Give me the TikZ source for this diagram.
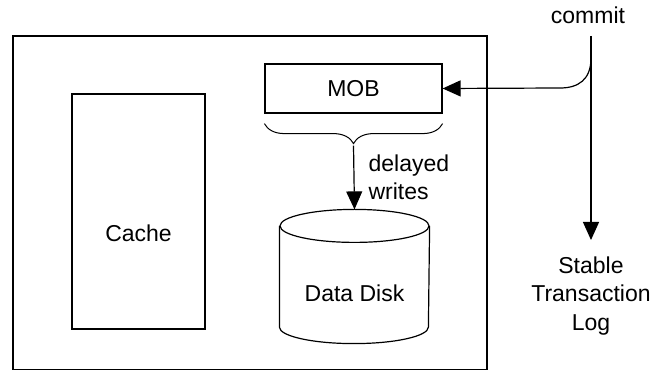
\documentclass[tikz,border=0pt]{standalone}
\usepackage{fontspec}
\setmainfont{Liberation Sans}
\usetikzlibrary{arrows.meta,positioning,decorations.pathreplacing}

\begin{document}
\begin{tikzpicture}[x=1pt,y=-1pt,line width=1.2pt,
        font=\fontsize{23}{28.5}\selectfont,
        box/.style={draw,rectangle,inner sep=0pt},
        disk/.style={rectangle,inner sep=0pt,minimum width=149pt,minimum height=133pt},
        >={Triangle[length=18pt,width=16pt]}]
    \useasboundingbox (0,0) rectangle (654,371);
    \draw (13,36) rectangle (487,369.5);
    \node[box,minimum width=133pt,minimum height=235pt] (cache) at (138.5,211.5) {};
    \node (cachelbl) at ([yshift=-22pt]cache.center) {Cache};
    \node[box,minimum width=177pt,minimum height=49pt] (mob) at (353.5,88.5) {MOB};
    % the data disk, drawn as a cylinder
    \node[disk] (disk) at (354.5,276.5) {};
    \draw ([yshift=-16.5pt]disk.north) ellipse [x radius=74.5,y radius=16.5];
    \draw ([yshift=-16.5pt]disk.north west) -- ([yshift=16.5pt]disk.south west)
        arc [start angle=180,end angle=0,x radius=74.5,y radius=16.5]
        -- ([yshift=-16.5pt]disk.north east);
    \node (disklbl) at ([yshift=-17pt]disk.center) {Data Disk};
    \draw[line width=1pt,decorate,decoration={brace,mirror,amplitude=20pt}]
        ([yshift=-10pt]mob.south west) -- ([yshift=-10pt]mob.south east);
    \coordinate (tip) at ([yshift=-32pt]mob.south);
    \draw[->] (tip) -- (disk.north)
        node[midway,right=14pt,align=left,inner sep=0pt] (dw) {delayed\\writes};
    % commit goes to the log and to the MOB
    \node (commit) at (588,15) {commit};
    \coordinate (ctop) at (591,36);
    \node[align=center,anchor=north,inner sep=0pt] (log) at (591,256) {Stable\\Transaction\\Log};
    \draw[->,shorten >=16pt] (ctop) -- (log.north);
    \coordinate (tap) at (591,58);
    \coordinate (bend) at (560,88);
    \draw[->] (tap) .. controls (591,80) and (578,88) .. (bend) -- (mob.east);
\end{tikzpicture}
\end{document}
